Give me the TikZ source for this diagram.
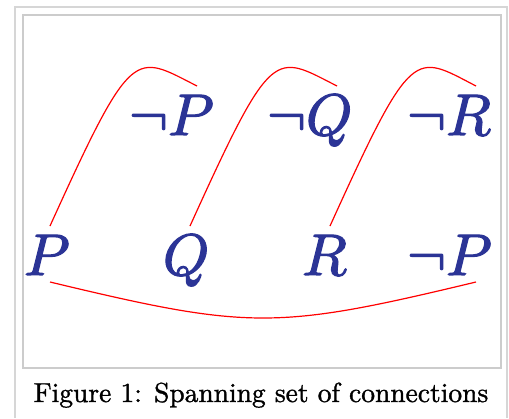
\documentclass[tikz,border=0pt]{standalone}
\usepackage{graphicx}
\usepackage{tikz}
\definecolor{letterblue}{RGB}{43,52,150}
\definecolor{frameouter}{RGB}{214,214,214}
\definecolor{frameinner}{RGB}{204,204,204}
\newcommand{\bigsym}[1]{\scalebox{5.86}{\special{pdf:code 2 Tr 0.2 w}$#1$\special{pdf:code 0 Tr}}}
\newcommand{\captext}[1]{\scalebox{2.75}{\special{pdf:code 2 Tr 0.12 w}#1\special{pdf:code 0 Tr}}}
\begin{document}
\begin{tikzpicture}[x=1pt,y=-1pt,
  lit/.style={inner sep=0pt, outer sep=0pt, anchor=base west, text=letterblue},
  conn/.style={red, line width=1.2pt},
  caption/.style={inner sep=0pt, anchor=base}]
\useasboundingbox (0,0) rectangle (509,418);
\fill[white] (0,0) rectangle (509,418);
% frames
\draw[frameouter, line width=2pt] (15,418) -- (15,7) -- (507,7) -- (507,418);
\draw[frameinner, line width=2pt] (23,15) rectangle (501,368);
% literals
\node[lit] (P)   at (24,275)  {\bigsym{P}};
\node[lit] (Q)   at (163,275) {\bigsym{Q}};
\node[lit] (R)   at (302,275) {\bigsym{R}};
\node[lit] (nP2) at (407,275) {\bigsym{\neg P}};
\node[lit] (nP)  at (129,135) {\bigsym{\neg P}};
\node[lit] (nQ)  at (267,135) {\bigsym{\neg Q}};
\node[lit] (nR)  at (407,135) {\bigsym{\neg R}};
% connection end points
\coordinate (aP) at (50,226);
\coordinate (aQ) at (190,226);
\coordinate (aR) at (330,226);
\coordinate (bP) at (197,86);
\coordinate (bQ) at (337,86);
\coordinate (bR) at (476,86);
\coordinate (cP) at (50,282);
\coordinate (cnP) at (476,282);
% connections
\draw[conn] (aP) .. controls (133,43) and (134,54) .. (bP);
\draw[conn] (aQ) .. controls (273,43) and (274,54) .. (bQ);
\draw[conn] (aR) .. controls (413,43) and (414,54) .. (bR);
\draw[conn] (cP) .. controls (250,330) and (276,330) .. (cnP);
% caption
\node[caption] (cap) at (261,402) {\captext{Figure 1: Spanning set of connections}};
\end{tikzpicture}
\end{document}
